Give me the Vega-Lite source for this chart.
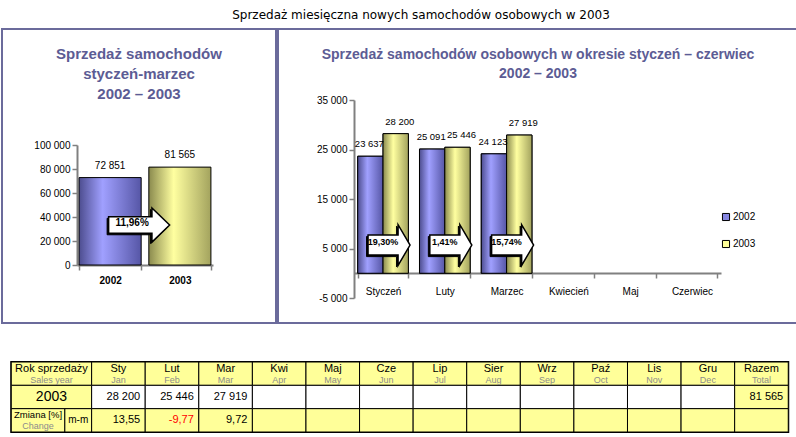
{
  "$schema": "https://vega.github.io/schema/vega-lite/v6.json",
  "background": "white",
  "padding": {"left": 1, "top": 9, "right": 0, "bottom": 0},
  "title": {"text": "Sprzedaż miesięczna nowych samochodów osobowych w 2003", "font": "DejaVu Sans", "fontSize": 12, "fontWeight": "normal", "color": "black", "anchor": "middle", "dx": 21, "offset": 6},
  "spacing": 36,
  "center": true,
  "vconcat": [
    {
      "spacing": 0,
      "hconcat": [
        {
          "width": 274,
          "height": 294,
          "view": {"stroke": "#6b6b9b", "strokeWidth": 2},
          "title": {"text": ["Sprzedaż samochodów", "styczeń-marzec", "2002 – 2003"], "anchor": "middle", "frame": "group", "orient": "top", "offset": -73, "font": "Liberation Sans", "fontSize": 15, "fontWeight": "bold", "color": "#5c5c94", "lineHeight": 20},
          "data": {"values": [{"year": "2002", "sales": 72851}, {"year": "2003", "sales": 81565}]},
          "encoding": {
            "x": {"field": "year", "type": "nominal", "scale": {"domain": ["2002", "2003"], "range": [75, 211], "paddingInner": 0.11, "paddingOuter": 0.03}, "axis": {"orient": "bottom", "offset": -58, "tickBand": "extent", "labelFontWeight": "bold", "labelPadding": 5, "labelAngle": 0, "title": null}}
          },
          "layer": [
            {"transform": [{"filter": "datum.year == '2002'"}], "mark": {"type": "bar", "stroke": "black", "strokeWidth": 1, "fill": {"gradient": "linear", "x1": 0, "y1": 0, "x2": 1, "y2": 0, "stops": [{"offset": 0, "color": "#4d4d8f"}, {"offset": 0.38, "color": "#a0a0ff"}, {"offset": 1, "color": "#5656a6"}]}},
             "encoding": {"y": {"field": "sales", "type": "quantitative", "scale": {"domain": [0, 100000], "range": [236, 116]}, "axis": {"values": [0, 20000, 40000, 60000, 80000, 100000], "format": ",d", "offset": -75, "title": null, "labelPadding": 2}}}},
            {"transform": [{"filter": "datum.year == '2003'"}], "mark": {"type": "bar", "stroke": "black", "strokeWidth": 1, "fill": {"gradient": "linear", "x1": 0, "y1": 0, "x2": 1, "y2": 0, "stops": [{"offset": 0, "color": "#8a8a4e"}, {"offset": 0.4, "color": "#ffffa0"}, {"offset": 1, "color": "#a3a35e"}]}},
             "encoding": {"y": {"field": "sales", "type": "quantitative"}}},
            {"mark": {"type": "text", "baseline": "bottom", "dy": -7, "font": "Liberation Sans", "fontSize": 10, "color": "black"}, "encoding": {"y": {"field": "sales", "type": "quantitative"}, "text": {"field": "sales", "type": "quantitative", "format": ",d"}}},
            {"data": {"values": [{"year": "2002", "change": "11,96%"}]}, "mark": {"type": "point", "shape": "M-1,-0.27L0.42,-0.27L0.42,-0.56L1,0L0.42,0.56L0.42,0.27L-1,0.27Z", "size": 3721, "filled": true, "fill": "black", "stroke": "black", "strokeWidth": 1, "opacity": 1, "xOffset": 27.5, "yOffset": 1.5}, "encoding": {"y": {"datum": 33300, "type": "quantitative"}}},
            {"data": {"values": [{"year": "2002", "change": "11,96%"}]}, "mark": {"type": "point", "shape": "M-1,-0.27L0.42,-0.27L0.42,-0.56L1,0L0.42,0.56L0.42,0.27L-1,0.27Z", "size": 3721, "filled": true, "fill": "white", "stroke": "black", "strokeWidth": 1.5, "opacity": 1, "xOffset": 29}, "encoding": {"y": {"datum": 33300, "type": "quantitative"}}},
            {"data": {"values": [{"year": "2002", "change": "11,96%"}]}, "mark": {"type": "text", "font": "Liberation Sans", "fontSize": 10, "fontWeight": "bold", "color": "black", "xOffset": 22, "dy": -2}, "encoding": {"y": {"datum": 33300, "type": "quantitative"}, "text": {"field": "change"}}}
          ]
        },
        {
          "width": 520,
          "height": 294,
          "view": {"stroke": "#6b6b9b", "strokeWidth": 2},
          "title": {"text": ["Sprzedaż samochodów osobowych w okresie styczeń – czerwiec", "2002 – 2003"], "anchor": "middle", "frame": "group", "orient": "top", "offset": -52, "font": "Liberation Sans", "fontSize": 14, "fontWeight": "bold", "color": "#5c5c94", "lineHeight": 19},
          "data": {"values": [
            {"month": "Styczeń", "year": "2002", "sales": 23637},
            {"month": "Styczeń", "year": "2003", "sales": 28200},
            {"month": "Luty", "year": "2002", "sales": 25091},
            {"month": "Luty", "year": "2003", "sales": 25446},
            {"month": "Marzec", "year": "2002", "sales": 24123},
            {"month": "Marzec", "year": "2003", "sales": 27919}
          ]},
          "encoding": {
            "x": {"field": "month", "type": "nominal", "scale": {"domain": ["Styczeń", "Luty", "Marzec", "Kwiecień", "Maj", "Czerwiec"], "range": [76, 443], "paddingInner": 0.18, "paddingOuter": 0.06}, "axis": {"orient": "bottom", "offset": -50, "tickBand": "extent", "labelPadding": 8, "labelAngle": 0, "title": null}}
          },
          "layer": [
            {"mark": {"type": "bar", "stroke": "black", "strokeWidth": 1}, "encoding": {
              "y": {"field": "sales", "type": "quantitative", "scale": {"domain": [-5000, 35000], "range": [269, 71]}, "axis": {"values": [-5000, 5000, 15000, 25000, 35000], "format": ",d", "offset": -76, "title": null, "labelPadding": 2}},
              "xOffset": {"field": "year", "type": "nominal", "scale": {"domain": ["2002", "2003"], "paddingInner": 0}},
              "color": {"field": "year", "type": "nominal", "scale": {"domain": ["2002", "2003"], "range": ["#8585e0", "#ffff99"]}, "legend": {"orient": "none", "legendX": 719, "legendY": 183, "title": null, "symbolType": "square", "symbolSize": 50, "symbolStrokeColor": "black", "symbolStrokeWidth": 1, "labelFontSize": 10, "labelFont": "Liberation Sans", "labelColor": "black", "rowPadding": 15, "labelOffset": 2}}
            }},
            {"transform": [{"filter": "datum.year == '2002'"}], "mark": {"type": "bar", "stroke": "black", "strokeWidth": 1, "fill": {"gradient": "linear", "x1": 0, "y1": 0, "x2": 1, "y2": 0, "stops": [{"offset": 0, "color": "#4d4d8f"}, {"offset": 0.38, "color": "#a0a0ff"}, {"offset": 1, "color": "#5656a6"}]}}, "encoding": {"y": {"field": "sales", "type": "quantitative"}, "xOffset": {"field": "year", "type": "nominal"}}},
            {"transform": [{"filter": "datum.year == '2003'"}], "mark": {"type": "bar", "stroke": "black", "strokeWidth": 1, "fill": {"gradient": "linear", "x1": 0, "y1": 0, "x2": 1, "y2": 0, "stops": [{"offset": 0, "color": "#8a8a4e"}, {"offset": 0.4, "color": "#ffffa0"}, {"offset": 1, "color": "#a3a35e"}]}}, "encoding": {"y": {"field": "sales", "type": "quantitative"}, "xOffset": {"field": "year", "type": "nominal"}}},
            {"transform": [{"filter": "datum.year == '2002'"}], "mark": {"type": "text", "baseline": "bottom", "dy": -7, "dx": -1, "font": "Liberation Sans", "fontSize": 9.5, "color": "black"}, "encoding": {"y": {"field": "sales", "type": "quantitative"}, "xOffset": {"field": "year", "type": "nominal"}, "text": {"field": "sales", "type": "quantitative", "format": ",d"}}},
            {"transform": [{"filter": "datum.year == '2003'"}], "mark": {"type": "text", "baseline": "bottom", "dy": -7, "dx": 4, "font": "Liberation Sans", "fontSize": 9.5, "color": "black"}, "encoding": {"y": {"field": "sales", "type": "quantitative"}, "xOffset": {"field": "year", "type": "nominal"}, "text": {"field": "sales", "type": "quantitative", "format": ",d"}}},
            {"data": {"values": [{"month": "Styczeń", "change": "19,30%"}, {"month": "Luty", "change": "1,41%"}, {"month": "Marzec", "change": "15,74%"}]}, "mark": {"type": "point", "shape": "M-1,-0.48L0.43,-0.48L0.43,-0.97L1,0L0.43,0.97L0.43,0.48L-1,0.48Z", "size": 1764, "filled": true, "fill": "black", "stroke": "black", "strokeWidth": 1, "opacity": 1, "xOffset": 4.5, "yOffset": 1.5}, "encoding": {"y": {"datum": 5700, "type": "quantitative"}}},
            {"data": {"values": [{"month": "Styczeń", "change": "19,30%"}, {"month": "Luty", "change": "1,41%"}, {"month": "Marzec", "change": "15,74%"}]}, "mark": {"type": "point", "shape": "M-1,-0.48L0.43,-0.48L0.43,-0.97L1,0L0.43,0.97L0.43,0.48L-1,0.48Z", "size": 1764, "filled": true, "fill": "white", "stroke": "black", "strokeWidth": 1.5, "opacity": 1, "xOffset": 6}, "encoding": {"y": {"datum": 5700, "type": "quantitative"}}},
            {"data": {"values": [{"month": "Styczeń", "change": "19,30%"}, {"month": "Luty", "change": "1,41%"}, {"month": "Marzec", "change": "15,74%"}]}, "mark": {"type": "text", "font": "Liberation Sans", "fontSize": 9, "fontWeight": "bold", "color": "black", "xOffset": 0, "dy": -3}, "encoding": {"y": {"datum": 5700, "type": "quantitative"}, "text": {"field": "change"}}}
          ]
        }
      ]
    },
    {
      "width": 777,
      "height": 70,
      "view": {"stroke": "black", "strokeWidth": 2},
      "encoding": {
        "y": {"field": "r", "type": "ordinal", "scale": {"domain": ["h", "v", "c"], "paddingInner": 0, "paddingOuter": 0}, "axis": null}
      },
      "layer": [
        {
          "data": {"values": [
            {"c1": "z1", "c2": "m", "r": "h", "kind": "lab"},
            {"c1": "Sty", "c2": "Sty2", "r": "h", "kind": "lab"},
            {"c1": "Lut", "c2": "Lut2", "r": "h", "kind": "lab"},
            {"c1": "Mar", "c2": "Mar2", "r": "h", "kind": "lab"},
            {"c1": "Kwi", "c2": "Kwi2", "r": "h", "kind": "lab"},
            {"c1": "Maj", "c2": "Maj2", "r": "h", "kind": "lab"},
            {"c1": "Cze", "c2": "Cze2", "r": "h", "kind": "lab"},
            {"c1": "Lip", "c2": "Lip2", "r": "h", "kind": "lab"},
            {"c1": "Sie", "c2": "Sie2", "r": "h", "kind": "lab"},
            {"c1": "Wrz", "c2": "Wrz2", "r": "h", "kind": "lab"},
            {"c1": "Paz", "c2": "Paz2", "r": "h", "kind": "lab"},
            {"c1": "Lis", "c2": "Lis2", "r": "h", "kind": "lab"},
            {"c1": "Gru", "c2": "Gru2", "r": "h", "kind": "lab"},
            {"c1": "Raz", "c2": "Raz2", "r": "h", "kind": "lab"},
            {"c1": "z1", "c2": "m", "r": "v", "kind": "lab"},
            {"c1": "Sty", "c2": "Sty2", "r": "v", "kind": "val"},
            {"c1": "Lut", "c2": "Lut2", "r": "v", "kind": "val"},
            {"c1": "Mar", "c2": "Mar2", "r": "v", "kind": "val"},
            {"c1": "Kwi", "c2": "Kwi2", "r": "v", "kind": "val"},
            {"c1": "Maj", "c2": "Maj2", "r": "v", "kind": "val"},
            {"c1": "Cze", "c2": "Cze2", "r": "v", "kind": "val"},
            {"c1": "Lip", "c2": "Lip2", "r": "v", "kind": "val"},
            {"c1": "Sie", "c2": "Sie2", "r": "v", "kind": "val"},
            {"c1": "Wrz", "c2": "Wrz2", "r": "v", "kind": "val"},
            {"c1": "Paz", "c2": "Paz2", "r": "v", "kind": "val"},
            {"c1": "Lis", "c2": "Lis2", "r": "v", "kind": "val"},
            {"c1": "Gru", "c2": "Gru2", "r": "v", "kind": "val"},
            {"c1": "Raz", "c2": "Raz2", "r": "v", "kind": "lab"},
            {"c1": "z1", "c2": "z2", "r": "c", "kind": "lab"},
            {"c1": "m", "c2": "m", "r": "c", "kind": "lab"},
            {"c1": "Sty", "c2": "Sty2", "r": "c", "kind": "lab"},
            {"c1": "Lut", "c2": "Lut2", "r": "c", "kind": "lab"},
            {"c1": "Mar", "c2": "Mar2", "r": "c", "kind": "lab"},
            {"c1": "Kwi", "c2": "Kwi2", "r": "c", "kind": "lab"},
            {"c1": "Maj", "c2": "Maj2", "r": "c", "kind": "lab"},
            {"c1": "Cze", "c2": "Cze2", "r": "c", "kind": "lab"},
            {"c1": "Lip", "c2": "Lip2", "r": "c", "kind": "lab"},
            {"c1": "Sie", "c2": "Sie2", "r": "c", "kind": "lab"},
            {"c1": "Wrz", "c2": "Wrz2", "r": "c", "kind": "lab"},
            {"c1": "Paz", "c2": "Paz2", "r": "c", "kind": "lab"},
            {"c1": "Lis", "c2": "Lis2", "r": "c", "kind": "lab"},
            {"c1": "Gru", "c2": "Gru2", "r": "c", "kind": "lab"},
            {"c1": "Raz", "c2": "Raz2", "r": "c", "kind": "lab"}
          ]},
          "mark": {"type": "rect", "stroke": "black", "strokeWidth": 1},
          "encoding": {
            "x": {"field": "c1", "type": "ordinal", "bandPosition": 0, "scale": {"domain": ["z1", "z2", "m", "Sty", "Sty2", "Lut", "Lut2", "Mar", "Mar2", "Kwi", "Kwi2", "Maj", "Maj2", "Cze", "Cze2", "Lip", "Lip2", "Sie", "Sie2", "Wrz", "Wrz2", "Paz", "Paz2", "Lis", "Lis2", "Gru", "Gru2", "Raz", "Raz2"], "paddingInner": 0, "paddingOuter": 0}, "axis": null},
            "x2": {"field": "c2", "bandPosition": 1},
            "fill": {"field": "kind", "type": "nominal", "scale": {"domain": ["lab", "val"], "range": ["#ffff99", "#ffffff"]}, "legend": null}
          }
        },
        {
          "data": {"name": "ttext", "values": [
            {"k": "Sty", "r": "h", "main": "Sty", "sub": "Jan"},
            {"k": "Lut", "r": "h", "main": "Lut", "sub": "Feb"},
            {"k": "Mar", "r": "h", "main": "Mar", "sub": "Mar"},
            {"k": "Kwi", "r": "h", "main": "Kwi", "sub": "Apr"},
            {"k": "Maj", "r": "h", "main": "Maj", "sub": "May"},
            {"k": "Cze", "r": "h", "main": "Cze", "sub": "Jun"},
            {"k": "Lip", "r": "h", "main": "Lip", "sub": "Jul"},
            {"k": "Sie", "r": "h", "main": "Sier", "sub": "Aug"},
            {"k": "Wrz", "r": "h", "main": "Wrz", "sub": "Sep"},
            {"k": "Paz", "r": "h", "main": "Paź", "sub": "Oct"},
            {"k": "Lis", "r": "h", "main": "Lis", "sub": "Nov"},
            {"k": "Gru", "r": "h", "main": "Gru", "sub": "Dec"},
            {"k": "Raz", "r": "h", "main": "Razem", "sub": "Total"},
            {"k": "z1", "r": "c", "main": "Zmiana [%]", "sub": "Change"},
            {"k": "z2", "r": "h", "main": "Rok sprzedaży", "sub": "Sales year"},
            {"k": "z2", "r": "v", "main": "2003"},
            {"k": "m", "r": "c", "main": "m-m"}
          ]},
          "transform": [{"filter": "datum.sub && datum.k != 'z2' && datum.k != 'z1'"}],
          "mark": {"type": "text", "font": "Liberation Sans", "fontSize": 11, "color": "black", "dy": -5},
          "encoding": {"x": {"field": "k", "type": "ordinal", "bandPosition": 1, "axis": null}, "text": {"field": "main"}}
        },
        {
          "data": {"name": "ttext"},
          "transform": [{"filter": "datum.sub && datum.k == 'z1'"}],
          "mark": {"type": "text", "font": "Liberation Sans", "fontSize": 9.5, "color": "black", "dy": -5},
          "encoding": {"x": {"field": "k", "type": "ordinal", "bandPosition": 1, "axis": null}, "text": {"field": "main"}}
        },
        {
          "data": {"name": "ttext"},
          "transform": [{"filter": "datum.sub && datum.k != 'z2'"}],
          "mark": {"type": "text", "font": "Liberation Sans", "fontSize": 9, "color": "#8c8c8c", "dy": 6},
          "encoding": {"x": {"field": "k", "type": "ordinal", "bandPosition": 1, "axis": null}, "text": {"field": "sub"}}
        },
        {
          "data": {"name": "ttext"},
          "transform": [{"filter": "datum.sub && datum.k == 'z2'"}],
          "mark": {"type": "text", "font": "Liberation Sans", "fontSize": 11, "color": "black", "dy": -5},
          "encoding": {"x": {"field": "k", "type": "ordinal", "bandPosition": 0.5, "axis": null}, "text": {"field": "main"}}
        },
        {
          "data": {"name": "ttext"},
          "transform": [{"filter": "datum.sub && datum.k == 'z2'"}],
          "mark": {"type": "text", "font": "Liberation Sans", "fontSize": 9, "color": "#8c8c8c", "dy": 6},
          "encoding": {"x": {"field": "k", "type": "ordinal", "bandPosition": 0.5, "axis": null}, "text": {"field": "sub"}}
        },
        {
          "data": {"name": "ttext"},
          "transform": [{"filter": "!datum.sub && datum.r == 'v'"}],
          "mark": {"type": "text", "font": "Liberation Sans", "fontSize": 14, "color": "black"},
          "encoding": {"x": {"field": "k", "type": "ordinal", "bandPosition": 0.5, "axis": null}, "text": {"field": "main"}}
        },
        {
          "data": {"name": "ttext"},
          "transform": [{"filter": "!datum.sub && datum.r == 'c'"}],
          "mark": {"type": "text", "font": "Liberation Sans", "fontSize": 10, "color": "black"},
          "encoding": {"x": {"field": "k", "type": "ordinal", "bandPosition": 0.5, "axis": null}, "text": {"field": "main"}}
        },
        {
          "data": {"name": "tnum", "values": [
            {"k": "Sty2", "r": "v", "v": 28200},
            {"k": "Lut2", "r": "v", "v": 25446},
            {"k": "Mar2", "r": "v", "v": 27919},
            {"k": "Raz2", "r": "v", "v": 81565},
            {"k": "Sty2", "r": "c", "v": 13.55},
            {"k": "Lut2", "r": "c", "v": -9.77},
            {"k": "Mar2", "r": "c", "v": 9.72}
          ]},
          "transform": [{"filter": "datum.r == 'v'"}],
          "mark": {"type": "text", "font": "Liberation Sans", "fontSize": 11, "color": "black", "align": "right", "dx": -5},
          "encoding": {"x": {"field": "k", "type": "ordinal", "bandPosition": 1, "axis": null}, "text": {"field": "v", "type": "quantitative", "format": ",d"}}
        },
        {
          "data": {"name": "tnum"},
          "transform": [{"filter": "datum.r == 'c'"}],
          "mark": {"type": "text", "font": "Liberation Sans", "fontSize": 11, "align": "right", "dx": -5},
          "encoding": {"x": {"field": "k", "type": "ordinal", "bandPosition": 1, "axis": null}, "text": {"field": "v", "type": "quantitative", "format": ".2f"}, "color": {"condition": {"test": "datum.v < 0", "value": "#ff0000"}, "value": "black"}}
        }
      ]
    }
  ],
  "config": {
    "view": {"stroke": null},
    "locale": {"number": {"decimal": ",", "thousands": " ", "grouping": [3], "currency": ["", " zł"], "minus": "-"}},
    "axis": {"domainColor": "#808080", "domainWidth": 2, "tickColor": "#808080", "tickWidth": 1.5, "tickSize": 5, "labelFont": "Liberation Sans", "labelFontSize": 10, "labelColor": "black", "grid": false}
  }
}
